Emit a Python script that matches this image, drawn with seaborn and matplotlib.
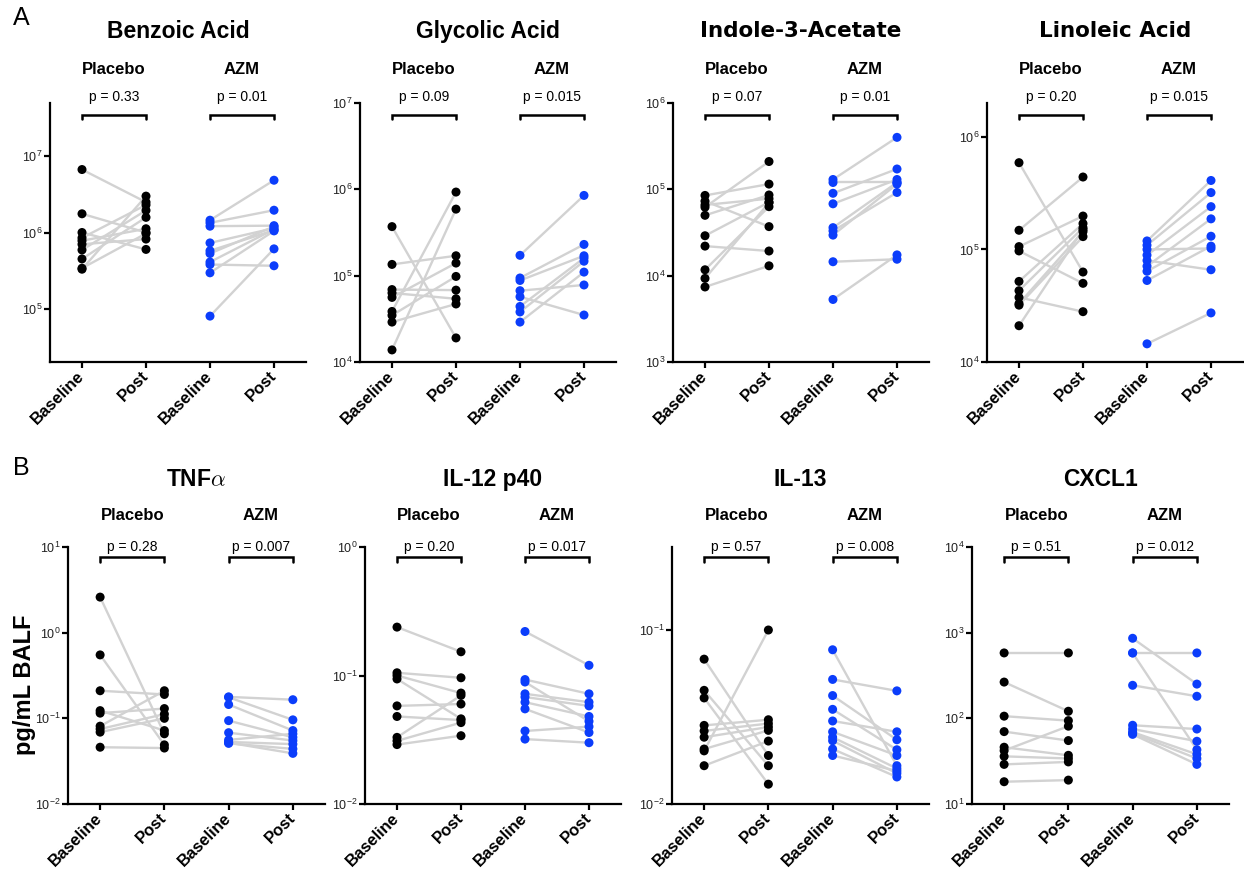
import matplotlib
matplotlib.use("Agg")
import matplotlib.pyplot as plt
import matplotlib.transforms as mtransforms
from matplotlib.ticker import FixedLocator, NullLocator, LogFormatterSciNotation
import numpy as np
import pandas as pd
import seaborn as sns

# ---- data (paired baseline -> post per subject) ----
benzoic_pl_base = [6.7e6, 1.76e6, 1.0e6, 8.5e5, 7.8e5, 7.0e5, 5.9e5, 4.5e5, 3.3e5, 3.4e5]
benzoic_pl_post = [2.5e6, 1.0e6, 6.0e5, 2.3e6, 1.12e6, 8.2e5, 1.95e6, 1.58e6, 3.0e6, 9.7e5]
benzoic_az_base = [1.45e6, 1.34e6, 1.21e6, 7.3e5, 5.76e5, 5.3e5, 4.1e5, 3.8e5, 2.96e5, 8.0e4]
benzoic_az_post = [4.85e6, 1.96e6, 1.23e6, 1.14e6, 1.07e6, 1.2e6, 1.1e6, 3.66e5, 1.05e6, 6.1e5]

glycolic_pl_base = [3.7e5, 1.35e5, 6.9e4, 6.3e4, 5.6e4, 3.85e4, 3.47e4, 2.9e4, 1.38e4]
glycolic_pl_post = [1.9e4, 1.7e5, 6.8e4, 5.4e4, 1.4e5, 9.3e5, 9.8e4, 4.7e4, 5.9e5]
glycolic_az_base = [1.72e5, 9.4e4, 8.8e4, 6.7e4, 5.7e4, 4.4e4, 3.8e4, 2.9e4]
glycolic_az_post = [8.5e5, 2.3e5, 1.7e5, 7.8e4, 3.5e4, 1.6e5, 1.47e5, 1.1e5]

indole_pl_base = [8.5e4, 7.3e4, 6.6e4, 6.2e4, 5.0e4, 2.9e4, 2.2e4, 1.17e4, 9.3e3, 7.4e3]
indole_pl_post = [1.15e5, 3.7e4, 7.8e4, 2.1e5, 8.6e4, 7.1e4, 1.93e4, 6.3e4, 7.0e4, 1.3e4]
indole_az_base = [1.3e5, 1.2e5, 9.0e4, 6.8e4, 3.6e4, 3.3e4, 2.95e4, 1.45e4, 5.3e3]
indole_az_post = [4.0e5, 1.2e5, 1.72e5, 1.3e5, 1.2e5, 9.2e4, 1.15e5, 1.55e4, 1.74e4]

linoleic_pl_base = [5.9e5, 1.48e5, 1.06e5, 9.7e4, 5.2e4, 4.3e4, 3.75e4, 3.3e4, 3.2e4, 2.1e4]
linoleic_pl_post = [6.3e4, 4.4e5, 1.98e5, 5.0e4, 1.7e5, 1.56e5, 2.8e4, 1.44e5, 1.3e5, 1.5e5]
linoleic_az_base = [1.19e5, 1.09e5, 1.0e5, 8.9e4, 7.98e4, 7.1e4, 6.4e4, 5.3e4, 1.45e4]
linoleic_az_post = [4.1e5, 3.2e5, 1.02e5, 2.4e5, 6.6e4, 1.87e5, 1.31e5, 1.07e5, 2.73e4]

tnf_pl_base = [2.6, 0.55, 0.21, 0.123, 0.115, 0.081, 0.075, 0.069, 0.046]
tnf_pl_post = [0.066, 0.049, 0.19, 0.072, 0.13, 0.21, 0.112, 0.1, 0.045]
tnf_az_base = [0.178, 0.176, 0.145, 0.094, 0.068, 0.056, 0.053, 0.051, 0.052]
tnf_az_post = [0.165, 0.096, 0.072, 0.06, 0.055, 0.066, 0.05, 0.044, 0.039]

il12_pl_base = [0.238, 0.105, 0.1, 0.094, 0.058, 0.048, 0.033, 0.031, 0.029]
il12_pl_post = [0.153, 0.096, 0.073, 0.046, 0.06, 0.045, 0.07, 0.043, 0.034]
il12_az_base = [0.22, 0.093, 0.089, 0.072, 0.068, 0.062, 0.055, 0.037, 0.032]
il12_az_post = [0.12, 0.072, 0.044, 0.062, 0.058, 0.048, 0.036, 0.04, 0.030]

il13_pl_base = [0.068, 0.045, 0.0407, 0.0283, 0.0263, 0.0242, 0.0207, 0.0202, 0.0166]
il13_pl_post = [0.019, 0.0166, 0.013, 0.0305, 0.029, 0.0277, 0.0265, 0.1, 0.023]
il13_az_base = [0.077, 0.052, 0.042, 0.035, 0.030, 0.026, 0.0242, 0.0231, 0.0207, 0.019]
il13_az_post = [0.0166, 0.0447, 0.0234, 0.0205, 0.026, 0.019, 0.016, 0.015, 0.0143, 0.0155]

cxcl1_pl_base = [580, 265, 106, 70, 46, 42, 36, 29, 18.2]
cxcl1_pl_post = [580, 121, 94, 55, 37, 81, 34, 31, 19]
cxcl1_az_base = [860, 580, 580, 243, 83, 75, 69, 65, 67]
cxcl1_az_post = [251, 580, 43, 181, 75, 54, 38, 29, 34]

titles = ["Benzoic Acid", "Glycolic Acid", "Indole-3-Acetate", "Linoleic Acid",
          r"TNF$\alpha$", "IL-12 p40", "IL-13", "CXCL1"]
p_placebo = ["p = 0.33", "p = 0.09", "p = 0.07", "p = 0.20",
             "p = 0.28", "p = 0.20", "p = 0.57", "p = 0.51"]
p_azm = ["p = 0.01", "p = 0.015", "p = 0.01", "p = 0.015",
         "p = 0.007", "p = 0.017", "p = 0.008", "p = 0.012"]
ylims = [(2e4, 5e7), (1e4, 1e7), (1e3, 1e6), (1e4, 2e6),
         (1e-2, 1e1), (1e-2, 1e0), (1e-2, 0.3), (1e1, 1e4)]
yticks = [[1e5, 1e6, 1e7], [1e4, 1e5, 1e6, 1e7], [1e3, 1e4, 1e5, 1e6], [1e4, 1e5, 1e6],
          [1e-2, 1e-1, 1e0, 1e1], [1e-2, 1e-1, 1e0], [1e-2, 1e-1], [1e1, 1e2, 1e3, 1e4]]
groups = ["Placebo", "AZM"]
timepoints = ["Baseline", "Post"]

panel_data = [
    (benzoic_pl_base, benzoic_pl_post, benzoic_az_base, benzoic_az_post),
    (glycolic_pl_base, glycolic_pl_post, glycolic_az_base, glycolic_az_post),
    (indole_pl_base, indole_pl_post, indole_az_base, indole_az_post),
    (linoleic_pl_base, linoleic_pl_post, linoleic_az_base, linoleic_az_post),
    (tnf_pl_base, tnf_pl_post, tnf_az_base, tnf_az_post),
    (il12_pl_base, il12_pl_post, il12_az_base, il12_az_post),
    (il13_pl_base, il13_pl_post, il13_az_base, il13_az_post),
    (cxcl1_pl_base, cxcl1_pl_post, cxcl1_az_base, cxcl1_az_post),
]


def long_table(pl_base, pl_post, az_base, az_post):
    rows = []
    for g, (base, post) in enumerate([(pl_base, pl_post), (az_base, az_post)]):
        for i, (b, p) in enumerate(zip(base, post)):
            for t, v in enumerate([b, p]):
                rows.append({"group": groups[g], "time": timepoints[t],
                             "pos": 2 * g + t, "pair": f"{groups[g]}_{i}", "value": v})
    return pd.DataFrame(rows)


sns.set_style("ticks")
plt.rcParams["font.family"] = ["Liberation Sans", "DejaVu Sans"]
plt.rcParams["text.color"] = "black"
plt.rcParams["xtick.color"] = "black"
plt.rcParams["ytick.color"] = "black"
plt.rcParams["axes.edgecolor"] = "black"
plt.rcParams["axes.unicode_minus"] = False

W, H = 1244, 871
fig = plt.figure(figsize=(W / 100, H / 100), dpi=100)

# axes boxes in pixels: x0, x1, ytop, ybottom
boxes = [(50, 306, 103, 362), (360, 616, 103, 362), (673, 929, 103, 362), (987, 1243, 103, 362),
         (68, 325, 547, 804), (365, 621, 547, 804), (672, 929, 547, 804), (972, 1229, 547, 804)]

palette = {"Placebo": "black", "AZM": "#0b3dfb"}

for k in range(8):
    x0, x1, yt, yb = boxes[k]
    ax = fig.add_axes([x0 / W, 1 - yb / H, (x1 - x0) / W, (yb - yt) / H])
    df = long_table(*panel_data[k])
    ax.set_yscale("log")

    sns.lineplot(data=df, x="pos", y="value", units="pair", estimator=None,
                 color="#d2d2d2", lw=1.7, ax=ax, legend=False, zorder=1)
    sns.scatterplot(data=df, x="pos", y="value", hue="group", palette=palette,
                    s=42, linewidth=0, ax=ax, legend=False, zorder=3)

    ax.set_xlim(-0.5, 3.5)
    ax.set_ylim(*ylims[k])
    ax.yaxis.set_major_locator(FixedLocator(yticks[k]))
    ax.yaxis.set_minor_locator(NullLocator())
    ax.yaxis.set_major_formatter(LogFormatterSciNotation())
    ax.set_xticks([0, 1, 2, 3])
    ax.set_xticklabels(timepoints * 2, rotation=45, ha="right", va="center",
                       rotation_mode="anchor", fontweight="bold", fontsize=12)
    ax.set_xlabel("")
    ax.set_ylabel("")
    sns.despine(ax=ax)
    for s in ["left", "bottom"]:
        ax.spines[s].set_linewidth(1.6)
    ax.tick_params(axis="both", which="major", length=4.5, width=1.6, color="black")
    ax.tick_params(axis="y", labelsize=9, pad=1, labelcolor="#222222")
    ax.tick_params(axis="x", pad=4)

    top_row = k < 4
    hpx = yb - yt
    br_y = 1 - (12 if top_row else 10) / hpx
    leg = 4.5 / hpx
    p_y = 1 + (6 if top_row else 0) / hpx
    grp_y = 1 + (33 if top_row else 32) / hpx
    ttl_y = 1 + (72 if top_row else 68) / hpx

    blend = mtransforms.blended_transform_factory(ax.transData, ax.transAxes)
    for g, ptxt in enumerate([p_placebo[k], p_azm[k]]):
        a, b = 2 * g, 2 * g + 1
        ax.plot([a, a, b, b], [br_y - leg, br_y, br_y, br_y - leg], color="black",
                lw=1.8, transform=blend, clip_on=False, solid_joinstyle="miter")
        ax.text((a + b) / 2, p_y, ptxt, transform=blend, ha="center", va="center",
                fontsize=10)
        ax.text((a + b) / 2, grp_y, groups[g], transform=blend, ha="center",
                va="center", fontsize=12, fontweight="bold")

    if k in (2, 3):
        ax.text(0.5, ttl_y, titles[k], transform=ax.transAxes, ha="center", va="center",
                fontsize=15.5, fontweight="bold", family="DejaVu Sans")
    elif k == 4:
        ax.text(0.5, ttl_y, titles[k], transform=ax.transAxes, ha="center", va="center",
                fontsize=16.5, fontweight="bold", math_fontfamily="cm")
    else:
        ax.text(0.5, ttl_y, titles[k], transform=ax.transAxes, ha="center", va="center",
                fontsize=16.5, fontweight="bold")

fig.text(13 / W, 1 - 18 / H, "A", fontsize=18, va="center", ha="left")
fig.text(13 / W, 1 - 468 / H, "B", fontsize=18, va="center", ha="left")
fig.text(24 / W, 1 - 685 / H, "pg/mL BALF", rotation=90, fontsize=17,
         fontweight="bold", ha="center", va="center")

fig.savefig("out.png", dpi=100)
